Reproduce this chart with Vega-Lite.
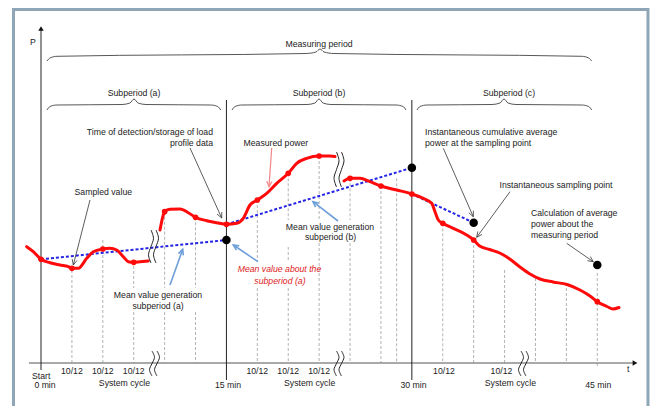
{
  "$schema": "https://vega.github.io/schema/vega-lite/v6.json",
  "width": 654,
  "height": 406,
  "padding": 0,
  "autosize": {"type": "none"},
  "background": "white",
  "config": {"view": {"stroke": null}, "text": {"font": "Liberation Sans", "fontSize": 8.7, "color": "#222222", "baseline": "middle"}},
  "datasets": {
    "curve": [
      {"seg": 1, "t": -1.157, "p": 116.3}, {"seg": 1, "t": -0.623, "p": 111.3}, {"seg": 1, "t": 0, "p": 103.7}, {"seg": 1, "t": 0.728, "p": 100.3},
      {"seg": 1, "t": 1.537, "p": 98}, {"seg": 1, "t": 2.208, "p": 96.3}, {"seg": 1, "t": 2.5, "p": 94.7}, {"seg": 1, "t": 3.017, "p": 94.7},
      {"seg": 1, "t": 3.697, "p": 104.7}, {"seg": 1, "t": 4.231, "p": 111.3}, {"seg": 1, "t": 5, "p": 114}, {"seg": 1, "t": 5.582, "p": 114.7},
      {"seg": 1, "t": 6.124, "p": 113}, {"seg": 1, "t": 6.658, "p": 106.3}, {"seg": 1, "t": 7.062, "p": 101.3}, {"seg": 1, "t": 7.5, "p": 100.7},
      {"seg": 1, "t": 8.0, "p": 101.3}, {"seg": 1, "t": 8.68, "p": 102},
      {"seg": 2, "t": 9.626, "p": 133}, {"seg": 2, "t": 9.893, "p": 148}, {"seg": 2, "t": 10, "p": 151.3}, {"seg": 2, "t": 10.435, "p": 153.7},
      {"seg": 2, "t": 11.244, "p": 154}, {"seg": 2, "t": 11.916, "p": 150.3}, {"seg": 2, "t": 12.5, "p": 145.7}, {"seg": 2, "t": 13.404, "p": 142.3},
      {"seg": 2, "t": 14.213, "p": 140.3}, {"seg": 2, "t": 15, "p": 138.7}, {"seg": 2, "t": 15.831, "p": 139.7}, {"seg": 2, "t": 16.365, "p": 144.7},
      {"seg": 2, "t": 16.907, "p": 158}, {"seg": 2, "t": 17.5, "p": 163}, {"seg": 2, "t": 18.258, "p": 169.7}, {"seg": 2, "t": 19.067, "p": 179.7},
      {"seg": 2, "t": 20, "p": 189.7}, {"seg": 2, "t": 20.684, "p": 199.7}, {"seg": 2, "t": 21.493, "p": 204.7}, {"seg": 2, "t": 22.5, "p": 207},
      {"seg": 2, "t": 23.378, "p": 207}, {"seg": 2, "t": 23.782, "p": 206.5},
      {"seg": 3, "t": 24.51, "p": 182}, {"seg": 3, "t": 25, "p": 184.7}, {"seg": 3, "t": 25.805, "p": 184.7}, {"seg": 3, "t": 26.614, "p": 181.3},
      {"seg": 3, "t": 27.5, "p": 177}, {"seg": 3, "t": 28.774, "p": 173}, {"seg": 3, "t": 30, "p": 169}, {"seg": 3, "t": 30.925, "p": 164.7},
      {"seg": 3, "t": 31.605, "p": 159.7}, {"seg": 3, "t": 31.872, "p": 151.3}, {"seg": 3, "t": 32.139, "p": 143}, {"seg": 3, "t": 32.5, "p": 139.7},
      {"seg": 3, "t": 33.351, "p": 134.7}, {"seg": 3, "t": 34.436, "p": 128}, {"seg": 3, "t": 35, "p": 123}, {"seg": 3, "t": 35.485, "p": 117},
      {"seg": 3, "t": 36.296, "p": 113.5}, {"seg": 3, "t": 37.105, "p": 110}, {"seg": 3, "t": 37.914, "p": 104}, {"seg": 3, "t": 38.748, "p": 96},
      {"seg": 3, "t": 39.557, "p": 89}, {"seg": 3, "t": 40.366, "p": 84}, {"seg": 3, "t": 41.417, "p": 81}, {"seg": 3, "t": 42.55, "p": 78.5},
      {"seg": 3, "t": 43.601, "p": 73}, {"seg": 3, "t": 44.41, "p": 67}, {"seg": 3, "t": 45, "p": 61.3}, {"seg": 3, "t": 45.786, "p": 56.5},
      {"seg": 3, "t": 46.271, "p": 54}, {"seg": 3, "t": 46.756, "p": 55.5}
    ],
    "samples": [
      {"t": 0, "p": 103.7}, {"t": 2.5, "p": 94.7}, {"t": 5, "p": 114}, {"t": 7.5, "p": 100.7}, {"t": 10, "p": 151.3},
      {"t": 12.5, "p": 145.7}, {"t": 15, "p": 138.7}, {"t": 17.5, "p": 163}, {"t": 20, "p": 189.7}, {"t": 22.5, "p": 207},
      {"t": 25, "p": 184.7}, {"t": 27.5, "p": 177}, {"t": 30, "p": 169}, {"t": 32.5, "p": 139.7}, {"t": 35, "p": 123}, {"t": 45, "p": 61.3}
    ],
    "means": [
      {"id": "a", "t": 0, "p": 103.7}, {"id": "a", "t": 15, "p": 123},
      {"id": "b", "t": 15, "p": 138.7}, {"id": "b", "t": 30, "p": 195.3},
      {"id": "c", "t": 30, "p": 169}, {"id": "c", "t": 35, "p": 140.3}
    ],
    "bigdots": [
      {"t": 15, "p": 123}, {"t": 30, "p": 195.3}, {"t": 35, "p": 140.3}, {"t": 45, "p": 98}
    ],
    "vlines": [
      {"t": 0, "p": -7, "p2": 334}, {"t": 15, "p": -17, "p2": 263}, {"t": 30, "p": -17, "p2": 263}
    ],
    "dashes": [
      {"t": 2.5, "p": 93, "p2": 0}, {"t": 5, "p": 123, "p2": 0},
      {"t": 7.5, "p": 97, "p2": 75}, {"t": 7.5, "p": 51, "p2": 0},
      {"t": 10, "p": 151.3, "p2": 75}, {"t": 10, "p": 51, "p2": 0},
      {"t": 12.5, "p": 145.7, "p2": 75}, {"t": 12.5, "p": 51, "p2": 0},
      {"t": 17.5, "p": 163, "p2": 101}, {"t": 17.5, "p": 75, "p2": 0},
      {"t": 20, "p": 189.7, "p2": 143}, {"t": 20, "p": 116, "p2": 101}, {"t": 20, "p": 75, "p2": 0},
      {"t": 22.5, "p": 207, "p2": 143}, {"t": 22.5, "p": 120, "p2": 0},
      {"t": 25, "p": 184.7, "p2": 143}, {"t": 25, "p": 120, "p2": 0},
      {"t": 27.5, "p": 177, "p2": 0}, {"t": 28.77, "p": 184.7, "p2": 0}, {"t": 32.5, "p": 139.7, "p2": 0},
      {"t": 35, "p": 123, "p2": 0}, {"t": 37.5, "p": 93, "p2": 0}, {"t": 40, "p": 85, "p2": 0}, {"t": 42.5, "p": 80, "p2": 0},
      {"t": 45, "p": 90, "p2": -3}
    ],
    "braces": [
      {"id": "m", "t": 0.485, "p": 302}, {"id": "m", "t": 0.728, "p": 305}, {"id": "m", "t": 1.294, "p": 306.7}, {"id": "m", "t": 21.437, "p": 309.5},
      {"id": "m", "t": 22.245, "p": 311}, {"id": "m", "t": 22.569, "p": 314}, {"id": "m", "t": 22.893, "p": 311}, {"id": "m", "t": 23.701, "p": 309.5},
      {"id": "m", "t": 43.739, "p": 306.7}, {"id": "m", "t": 44.305, "p": 305}, {"id": "m", "t": 44.548, "p": 302},
      {"id": "a", "t": 0.485, "p": 253}, {"id": "a", "t": 0.728, "p": 256.5}, {"id": "a", "t": 1.294, "p": 258}, {"id": "a", "t": 6.552, "p": 258.5},
      {"id": "a", "t": 7.199, "p": 260}, {"id": "a", "t": 7.523, "p": 264}, {"id": "a", "t": 7.847, "p": 260}, {"id": "a", "t": 8.494, "p": 258.5},
      {"id": "a", "t": 13.727, "p": 258}, {"id": "a", "t": 14.293, "p": 256.5}, {"id": "a", "t": 14.536, "p": 253},
      {"id": "b", "t": 15.451, "p": 253}, {"id": "b", "t": 15.694, "p": 256.5}, {"id": "b", "t": 16.26, "p": 258}, {"id": "b", "t": 21.517, "p": 258.5},
      {"id": "b", "t": 22.164, "p": 260}, {"id": "b", "t": 22.488, "p": 264}, {"id": "b", "t": 22.812, "p": 260}, {"id": "b", "t": 23.459, "p": 258.5},
      {"id": "b", "t": 28.717, "p": 258}, {"id": "b", "t": 29.283, "p": 256.5}, {"id": "b", "t": 29.526, "p": 253},
      {"id": "c", "t": 30.416, "p": 253}, {"id": "c", "t": 30.659, "p": 256.5}, {"id": "c", "t": 31.225, "p": 258}, {"id": "c", "t": 36.482, "p": 258.5},
      {"id": "c", "t": 37.129, "p": 260}, {"id": "c", "t": 37.453, "p": 264}, {"id": "c", "t": 37.777, "p": 260}, {"id": "c", "t": 38.424, "p": 258.5},
      {"id": "c", "t": 43.739, "p": 258}, {"id": "c", "t": 44.305, "p": 256.5}, {"id": "c", "t": 44.548, "p": 253}
    ],
    "breaks": [
      {"id": "x1a", "i": 1, "t": 8.979, "p": 12}, {"id": "x1a", "i": 2, "t": 9.181, "p": 5.75}, {"id": "x1a", "i": 3, "t": 8.979, "p": -0.5}, {"id": "x1a", "i": 4, "t": 8.777, "p": -6.75}, {"id": "x1a", "i": 5, "t": 8.979, "p": -13},
      {"id": "x1b", "i": 1, "t": 9.384, "p": 12}, {"id": "x1b", "i": 2, "t": 9.586, "p": 5.75}, {"id": "x1b", "i": 3, "t": 9.384, "p": -0.5}, {"id": "x1b", "i": 4, "t": 9.182, "p": -6.75}, {"id": "x1b", "i": 5, "t": 9.384, "p": -13},
      {"id": "x2a", "i": 1, "t": 23.904, "p": 12}, {"id": "x2a", "i": 2, "t": 24.106, "p": 5.75}, {"id": "x2a", "i": 3, "t": 23.904, "p": -0.5}, {"id": "x2a", "i": 4, "t": 23.702, "p": -6.75}, {"id": "x2a", "i": 5, "t": 23.904, "p": -13},
      {"id": "x2b", "i": 1, "t": 24.308, "p": 12}, {"id": "x2b", "i": 2, "t": 24.51, "p": 5.75}, {"id": "x2b", "i": 3, "t": 24.308, "p": -0.5}, {"id": "x2b", "i": 4, "t": 24.106, "p": -6.75}, {"id": "x2b", "i": 5, "t": 24.308, "p": -13},
      {"id": "x3a", "i": 1, "t": 38.829, "p": 12}, {"id": "x3a", "i": 2, "t": 39.031, "p": 5.75}, {"id": "x3a", "i": 3, "t": 38.829, "p": -0.5}, {"id": "x3a", "i": 4, "t": 38.627, "p": -6.75}, {"id": "x3a", "i": 5, "t": 38.829, "p": -13},
      {"id": "x3b", "i": 1, "t": 39.233, "p": 12}, {"id": "x3b", "i": 2, "t": 39.435, "p": 5.75}, {"id": "x3b", "i": 3, "t": 39.233, "p": -0.5}, {"id": "x3b", "i": 4, "t": 39.031, "p": -6.75}, {"id": "x3b", "i": 5, "t": 39.233, "p": -13},
      {"id": "c1a", "i": 1, "t": 8.898, "p": 133}, {"id": "c1a", "i": 2, "t": 9.1, "p": 124.75}, {"id": "c1a", "i": 3, "t": 8.898, "p": 116.5}, {"id": "c1a", "i": 4, "t": 8.696, "p": 108.25}, {"id": "c1a", "i": 5, "t": 8.898, "p": 100},
      {"id": "c1b", "i": 1, "t": 9.303, "p": 133}, {"id": "c1b", "i": 2, "t": 9.505, "p": 124.75}, {"id": "c1b", "i": 3, "t": 9.303, "p": 116.5}, {"id": "c1b", "i": 4, "t": 9.101, "p": 108.25}, {"id": "c1b", "i": 5, "t": 9.303, "p": 100},
      {"id": "c2a", "i": 1, "t": 23.904, "p": 211}, {"id": "c2a", "i": 2, "t": 24.106, "p": 202.25}, {"id": "c2a", "i": 3, "t": 23.904, "p": 193.5}, {"id": "c2a", "i": 4, "t": 23.702, "p": 184.75}, {"id": "c2a", "i": 5, "t": 23.904, "p": 176},
      {"id": "c2b", "i": 1, "t": 24.308, "p": 211}, {"id": "c2b", "i": 2, "t": 24.51, "p": 202.25}, {"id": "c2b", "i": 3, "t": 24.308, "p": 193.5}, {"id": "c2b", "i": 4, "t": 24.106, "p": 184.75}, {"id": "c2b", "i": 5, "t": 24.308, "p": 176}
    ],
    "shafts": [
      {"id": "A1", "kind": "black", "t": 12.053, "p": 215, "t2": 14.618, "p2": 145},
      {"id": "A2", "kind": "pink", "t": 18.662, "p": 215, "t2": 18.444, "p2": 176.3},
      {"id": "A3", "kind": "black", "t": 3.964, "p": 163, "t2": 2.613, "p2": 98},
      {"id": "A4", "kind": "blue", "t": 10.435, "p": 78, "t2": 11.463, "p2": 113.7},
      {"id": "A5", "kind": "blue", "t": 17.554, "p": 101.3, "t2": 15.556, "p2": 118},
      {"id": "A6", "kind": "blue", "t": 24.025, "p": 142, "t2": 22.003, "p2": 161.3},
      {"id": "A7", "kind": "black", "t": 32.544, "p": 214.7, "t2": 34.97, "p2": 146.3},
      {"id": "A8", "kind": "black", "t": 37.939, "p": 171.3, "t2": 35.245, "p2": 125.7},
      {"id": "A9", "kind": "black", "t": 42.526, "p": 119.7, "t2": 44.677, "p2": 101.3}
    ],
    "heads": [
      {"id": "A1", "kind": "black", "i": 1, "t": 14.626, "p": 151}, {"id": "A1", "kind": "black", "i": 2, "t": 14.618, "p": 145}, {"id": "A1", "kind": "black", "i": 3, "t": 14.245, "p": 148.9},
      {"id": "A2", "kind": "pink", "i": 1, "t": 18.679, "p": 181.5}, {"id": "A2", "kind": "pink", "i": 2, "t": 18.444, "p": 176.3}, {"id": "A2", "kind": "pink", "i": 3, "t": 18.266, "p": 181.9},
      {"id": "A3", "kind": "black", "i": 1, "t": 2.92, "p": 102.6}, {"id": "A3", "kind": "black", "i": 2, "t": 2.613, "p": 98}, {"id": "A3", "kind": "black", "i": 3, "t": 2.524, "p": 103.9},
      {"id": "A4", "kind": "blue", "i": 1, "t": 11.123, "p": 109.4}, {"id": "A4", "kind": "blue", "i": 2, "t": 11.463, "p": 113.7}, {"id": "A4", "kind": "blue", "i": 3, "t": 11.511, "p": 107.7},
      {"id": "A5", "kind": "blue", "i": 1, "t": 15.806, "p": 112.9}, {"id": "A5", "kind": "blue", "i": 2, "t": 15.556, "p": 118}, {"id": "A5", "kind": "blue", "i": 3, "t": 16.033, "p": 117.1},
      {"id": "A6", "kind": "blue", "i": 1, "t": 22.213, "p": 155.9}, {"id": "A6", "kind": "blue", "i": 2, "t": 22.003, "p": 161.3}, {"id": "A6", "kind": "blue", "i": 3, "t": 22.472, "p": 159.8},
      {"id": "A7", "kind": "black", "i": 1, "t": 34.978, "p": 152.3}, {"id": "A7", "kind": "black", "i": 2, "t": 34.97, "p": 146.3}, {"id": "A7", "kind": "black", "i": 3, "t": 34.606, "p": 150.3},
      {"id": "A8", "kind": "black", "i": 1, "t": 35.674, "p": 128.6}, {"id": "A8", "kind": "black", "i": 2, "t": 35.245, "p": 125.7}, {"id": "A8", "kind": "black", "i": 3, "t": 35.342, "p": 131.6},
      {"id": "A9", "kind": "black", "i": 1, "t": 44.434, "p": 106.5}, {"id": "A9", "kind": "black", "i": 2, "t": 44.677, "p": 101.3}, {"id": "A9", "kind": "black", "i": 3, "t": 44.2, "p": 102.3}
    ],
    "labels": [
      {"role": "c", "t": -0.647, "p": 321.3, "text": "P"},
      {"role": "c", "t": 22.49, "p": 319, "text": "Measuring period"},
      {"role": "c", "t": 7.523, "p": 270, "text": "Subperiod (a)"},
      {"role": "c", "t": 22.488, "p": 270, "text": "Subperiod (b)"},
      {"role": "c", "t": 37.858, "p": 270, "text": "Subperiod (c)"},
      {"role": "c", "t": 19.0, "p": 220.3, "text": "Measured power"},
      {"role": "c", "t": 5.04, "p": 171.3, "text": "Sampled value"},
      {"role": "c", "t": 9.465, "p": 68, "text": "Mean value generation"},
      {"role": "c", "t": 9.465, "p": 57.5, "text": "subperiod (a)"},
      {"role": "c", "t": 23.378, "p": 136.3, "text": "Mean value generation"},
      {"role": "c", "t": 23.42, "p": 125.7, "text": "subperiod (b)"},
      {"role": "c", "t": 41.66, "p": 178, "text": "Instantaneous sampling point"},
      {"role": "c", "t": 0.02, "p": -13, "text": "Start"},
      {"role": "c", "t": 0.324, "p": -22, "text": "0 min"},
      {"role": "c", "t": 15.12, "p": -22, "text": "15 min"},
      {"role": "c", "t": 30.13, "p": -22, "text": "30 min"},
      {"role": "c", "t": 45.08, "p": -22, "text": "45 min"},
      {"role": "c", "t": 2.5, "p": -7.7, "text": "10/12"},
      {"role": "c", "t": 5, "p": -7.7, "text": "10/12"},
      {"role": "c", "t": 7.5, "p": -7.7, "text": "10/12"},
      {"role": "c", "t": 17.5, "p": -7.7, "text": "10/12"},
      {"role": "c", "t": 20, "p": -7.7, "text": "10/12"},
      {"role": "c", "t": 22.5, "p": -7.7, "text": "10/12"},
      {"role": "c", "t": 32.6, "p": -7.7, "text": "10/12"},
      {"role": "c", "t": 37.25, "p": -7.7, "text": "10/12"},
      {"role": "c", "t": 6.75, "p": -19.7, "text": "System cycle"},
      {"role": "c", "t": 21.73, "p": -19.7, "text": "System cycle"},
      {"role": "c", "t": 37.97, "p": -19.7, "text": "System cycle"},
      {"role": "c", "t": 47.5, "p": -6.3, "text": "t"},
      {"role": "r", "t": 13.914, "p": 231.3, "text": "Time of detection/storage of load"},
      {"role": "r", "t": 13.914, "p": 220.3, "text": "profile data"},
      {"role": "l", "t": 31.063, "p": 231.3, "text": "Instantaneous cumulative average"},
      {"role": "l", "t": 31.063, "p": 220.3, "text": "power at the sampling point"},
      {"role": "l", "t": 39.638, "p": 149.7, "text": "Calculation of average"},
      {"role": "l", "t": 39.638, "p": 138.7, "text": "power about the"},
      {"role": "l", "t": 39.638, "p": 128, "text": "measuring period"},
      {"role": "red", "t": 19.293, "p": 93.7, "text": "Mean value about the"},
      {"role": "red", "t": 19.33, "p": 82.3, "text": "subperiod (a)"}
    ]
  },
  "encoding": {
    "x": {"field": "t", "type": "quantitative", "scale": {"domain": [-3.317, 49.588], "nice": false, "zero": false}, "axis": null},
    "y": {"field": "p", "type": "quantitative", "scale": {"domain": [-43, 363], "nice": false, "zero": false}, "axis": null}
  },
  "layer": [
    {
      "data": {"values": [{"t": -2.225, "t2": 49.102, "p": 353.5, "p2": -60}]},
      "mark": {"type": "rect", "fillOpacity": 0, "stroke": "#8ea6b6", "strokeWidth": 3, "clip": true},
      "encoding": {"x2": {"field": "t2"}, "y2": {"field": "p2"}}
    },
    {
      "data": {"name": "dashes"},
      "mark": {"type": "rule", "color": "#a0a0a0", "strokeWidth": 0.8, "strokeDash": [3, 2]},
      "encoding": {"y2": {"field": "p2"}}
    },
    {
      "data": {"name": "braces"},
      "mark": {"type": "line", "color": "#444444", "strokeWidth": 0.9, "interpolate": "monotone"},
      "encoding": {"detail": {"field": "id"}}
    },
    {
      "data": {"values": [{"t": -0.971, "t2": 47.9, "p": 0}]},
      "mark": {"type": "rule", "color": "#8c8c8c", "strokeWidth": 1.5},
      "encoding": {"x2": {"field": "t2"}}
    },
    {
      "data": {"name": "vlines"},
      "mark": {"type": "rule", "color": "#222222", "strokeWidth": 1},
      "encoding": {"y2": {"field": "p2"}}
    },
    {
      "data": {"values": [{"t": 0, "p": 334.5, "s": "up"}]},
      "mark": {"type": "point", "shape": "triangle-up", "filled": true, "color": "#111111", "size": 30, "opacity": 1}
    },
    {
      "data": {"values": [{"t": 48.05, "p": 0, "s": "right"}]},
      "mark": {"type": "point", "shape": "triangle-right", "filled": true, "color": "#111111", "size": 30, "opacity": 1}
    },
    {
      "data": {"name": "means"},
      "mark": {"type": "line", "color": "#2424e6", "strokeWidth": 2, "strokeDash": [3, 2]},
      "encoding": {"detail": {"field": "id"}}
    },
    {
      "data": {"name": "curve"},
      "mark": {"type": "line", "color": "#ff0a0a", "strokeWidth": 3, "interpolate": "monotone", "strokeCap": "round"},
      "encoding": {"detail": {"field": "seg"}}
    },
    {
      "data": {"name": "samples"},
      "mark": {"type": "point", "shape": "circle", "filled": true, "color": "#ff0a0a", "size": 32, "opacity": 1}
    },
    {
      "data": {"name": "breaks"},
      "mark": {"type": "line", "color": "#222222", "strokeWidth": 1, "interpolate": "cardinal"},
      "encoding": {"detail": {"field": "id"}, "order": {"field": "i"}}
    },
    {
      "data": {"name": "bigdots"},
      "mark": {"type": "point", "shape": "circle", "filled": true, "color": "#000000", "size": 72, "opacity": 1}
    },
    {
      "data": {"name": "shafts"},
      "mark": {"type": "rule"},
      "encoding": {
        "x2": {"field": "t2"},
        "y2": {"field": "p2"},
        "color": {"field": "kind", "type": "nominal", "scale": {"domain": ["black", "pink", "blue"], "range": ["#333333", "#f28585", "#6e9fd9"]}, "legend": null},
        "strokeWidth": {"field": "kind", "type": "nominal", "scale": {"domain": ["black", "pink", "blue"], "range": [0.8, 1.6, 1]}, "legend": null}
      }
    },
    {
      "data": {"name": "heads"},
      "mark": {"type": "line"},
      "encoding": {
        "detail": {"field": "id"},
        "order": {"field": "i"},
        "color": {"field": "kind", "type": "nominal", "scale": {"domain": ["black", "pink", "blue"], "range": ["#333333", "#f28585", "#6e9fd9"]}, "legend": null},
        "strokeWidth": {"field": "kind", "type": "nominal", "scale": {"domain": ["black", "pink", "blue"], "range": [0.8, 1.6, 1]}, "legend": null}
      }
    },
    {
      "data": {"name": "labels"},
      "transform": [{"filter": "datum.role === 'c'"}],
      "mark": {"type": "text", "align": "center"},
      "encoding": {"text": {"field": "text"}}
    },
    {
      "data": {"name": "labels"},
      "transform": [{"filter": "datum.role === 'r'"}],
      "mark": {"type": "text", "align": "right"},
      "encoding": {"text": {"field": "text"}}
    },
    {
      "data": {"name": "labels"},
      "transform": [{"filter": "datum.role === 'l'"}],
      "mark": {"type": "text", "align": "left"},
      "encoding": {"text": {"field": "text"}}
    },
    {
      "data": {"name": "labels"},
      "transform": [{"filter": "datum.role === 'red'"}],
      "mark": {"type": "text", "align": "center", "color": "#dd1c24", "fontStyle": "italic"},
      "encoding": {"text": {"field": "text"}}
    }
  ]
}
